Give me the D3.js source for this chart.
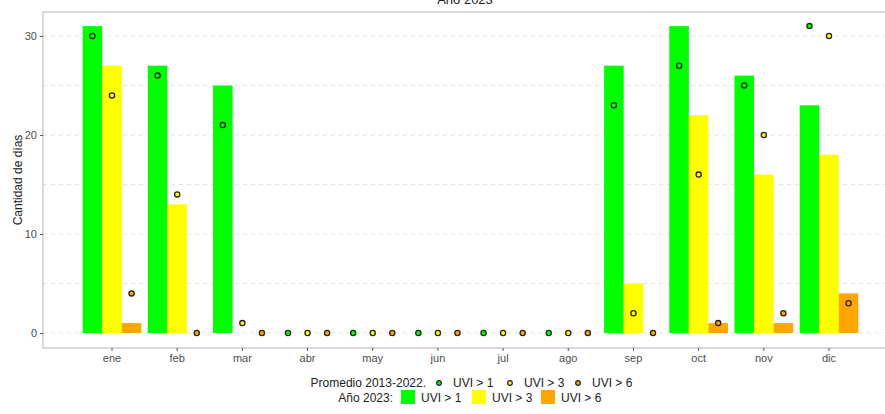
<!DOCTYPE html>
<html>
<head>
<meta charset="utf-8">
<script src="https://cdn.jsdelivr.net/npm/d3@7"></script>
<style>
  body { margin: 0; background: #fff; }
  text { font-family: "Liberation Sans", Arial, sans-serif; }
</style>
</head>
<body>
<div id="chart"></div>
<script>
// months and series
const months = ["ene","feb","mar","abr","may","jun","jul","ago","sep","oct","nov","dic"];
const series = ["UVI > 1","UVI > 3","UVI > 6"];
const colors = ["#00ff00","#ffff00","#ffa500"];

// 2023 values (bars)
const bar_uvi1 = [31,27,25,0,0,0,0,0,27,31,26,23];
const bar_uvi3 = [27,13,0,0,0,0,0,0,5,22,16,18];
const bar_uvi6 = [1,0,0,0,0,0,0,0,0,1,1,4];

// promedio 2013-2022 (points)
const avg_uvi1 = [30,26,21,0,0,0,0,0,23,27,25,31];
const avg_uvi3 = [24,14,1,0,0,0,0,0,2,16,20,30];
const avg_uvi6 = [4,0,0,0,0,0,0,0,0,1,2,3];

const yTicks = [0,10,20,30];
const yGrid = [0,5,10,15,20,25,30];

const width = 885, height = 414;
const svg = d3.select("#chart").append("svg")
    .attr("width", width)
    .attr("height", height);

const panel = {left: 43, top: 12, right: 886, bottom: 348};

let x = d3.scaleBand()
    .domain(months)
    .range([79.4, 861.6])
    .paddingInner(0).paddingOuter(0);

let xSub = d3.scaleBand()
    .domain(series)
    .range([x.bandwidth() * 0.05, x.bandwidth() * 0.95]);

let y = d3.scaleLinear()
    .domain([0, 30])
    .range([333, 36]);

// grid lines
svg.append("g").selectAll("line")
    .data(yGrid)
    .enter().append("line")
    .attr("x1", panel.left).attr("x2", panel.right)
    .attr("y1", d => y(d)).attr("y2", d => y(d))
    .attr("stroke", "#e3e3e3")
    .attr("stroke-width", 1)
    .attr("stroke-dasharray", "4,4");

// bars
const bars = [bar_uvi1, bar_uvi3, bar_uvi6];
bars.forEach(function(vals, s) {
  svg.append("g").selectAll("rect")
      .data(vals)
      .enter().append("rect")
      .attr("x", (d, i) => x(months[i]) + xSub(series[s]))
      .attr("width", xSub.bandwidth())
      .attr("y", d => y(d))
      .attr("height", d => y(0) - y(d))
      .attr("fill", colors[s]);
});

// points
const avgs = [avg_uvi1, avg_uvi3, avg_uvi6];
avgs.forEach(function(vals, s) {
  svg.append("g").selectAll("circle")
      .data(vals)
      .enter().append("circle")
      .attr("cx", (d, i) => x(months[i]) + xSub(series[s]) + xSub.bandwidth() / 2)
      .attr("cy", d => y(d))
      .attr("r", 2.6)
      .attr("fill", colors[s])
      .attr("stroke", "#222")
      .attr("stroke-width", 1.3);
});

// panel border
svg.append("rect")
    .attr("x", panel.left).attr("y", panel.top)
    .attr("width", panel.right - panel.left)
    .attr("height", panel.bottom - panel.top)
    .attr("fill", "none")
    .attr("stroke", "#b3b3b3")
    .attr("stroke-width", 1);

// axes
let yAxis = d3.axisLeft(y).tickValues(yTicks).tickSize(3).tickPadding(3);
let yg = svg.append("g").attr("transform", "translate(" + panel.left + ",0)").call(yAxis);
yg.select(".domain").remove();
yg.selectAll("line").attr("stroke", "#555");
yg.selectAll("text").attr("fill", "#4d4d4d").style("font-size", "11px");

let xAxis = d3.axisBottom(x).tickSize(3).tickPadding(3);
let xg = svg.append("g").attr("transform", "translate(0," + panel.bottom + ")").call(xAxis);
xg.select(".domain").remove();
xg.selectAll("line").attr("stroke", "#555");
xg.selectAll("text").attr("fill", "#4d4d4d").style("font-size", "11px");

// title
svg.append("text")
    .attr("x", 465).attr("y", 4)
    .attr("text-anchor", "middle")
    .style("font-size", "13px")
    .attr("fill", "#222")
    .text("Año 2023");

// y label
svg.append("text")
    .attr("transform", "translate(22," + ((panel.top + panel.bottom) / 2) + ") rotate(-90)")
    .attr("text-anchor", "middle")
    .style("font-size", "12px")
    .attr("fill", "#222")
    .text("Cantidad de días");

// legend row 1: points
let leg1 = svg.append("g");
leg1.append("text").attr("x", 426).attr("y", 387).attr("text-anchor", "end")
    .style("font-size", "12px").attr("fill", "#222").text("Promedio 2013-2022.");
const ptX = [439, 510, 578];
series.forEach(function(s, i) {
  leg1.append("circle").attr("cx", ptX[i]).attr("cy", 383).attr("r", 2.3)
      .attr("fill", colors[i]).attr("stroke", "#222").attr("stroke-width", 1.2);
  leg1.append("text").attr("x", ptX[i] + 14).attr("y", 387)
      .style("font-size", "12px").attr("fill", "#222").text(s);
});

// legend row 2: bars
let leg2 = svg.append("g");
leg2.append("text").attr("x", 393).attr("y", 402).attr("text-anchor", "end")
    .style("font-size", "12px").attr("fill", "#222").text("Año 2023:");
const sqX = [401, 472, 541];
series.forEach(function(s, i) {
  leg2.append("rect").attr("x", sqX[i]).attr("y", 390).attr("width", 14).attr("height", 14)
      .attr("fill", colors[i]);
  leg2.append("text").attr("x", sqX[i] + 20).attr("y", 402)
      .style("font-size", "12px").attr("fill", "#222").text(s);
});
</script>
</body>
</html>
